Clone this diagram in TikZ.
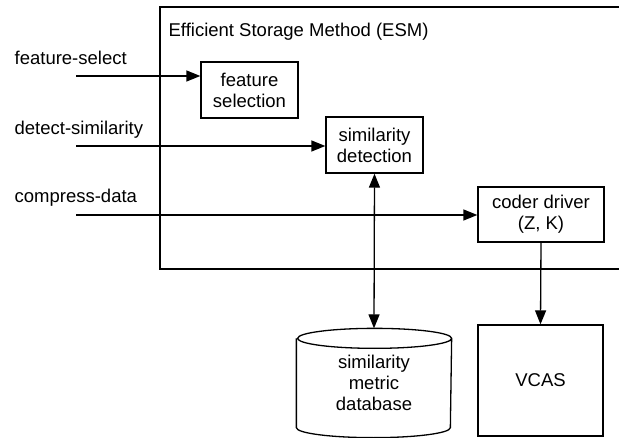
\documentclass[tikz,border=0pt]{standalone}
\usepackage{fontspec}
\setmainfont{Liberation Sans}
\usetikzlibrary{arrows.meta}
\begin{document}
\begin{tikzpicture}[x=1pt,y=1pt,line width=1.3pt,
  font=\fontsize{18.5}{21}\selectfont,
  blk/.style={draw,align=center,inner sep=0pt},
  lbl/.style={anchor=base west,inner sep=0pt},
  arr/.style={-{Triangle[length=14pt,width=11pt]}},
  arrboth/.style={{Triangle[length=14pt,width=11pt]}-{Triangle[length=14pt,width=11pt]}}]
\useasboundingbox (0,0) rectangle (619,437);

% ESM frame, open on the right
\draw (619,430) -- (160,430) -- (160,168) -- (619,168);
\node[lbl] (esm) at (168,400) {Efficient Storage Method (ESM)};

\node[blk,minimum width=97pt,minimum height=56pt] (feat) at (249.5,347) {feature\\selection};
\node[blk,minimum width=97pt,minimum height=56pt] (sim) at (374.5,292) {similarity\\detection};
\node[blk,minimum width=126pt,minimum height=55pt] (coder) at (541,222.5) {coder driver\\(Z, K)};

% inputs
\coordinate (fs) at (76,361);
\coordinate (ds) at (76,291);
\coordinate (cd) at (76,222);
\node[lbl] (fslbl) at (14,372) {feature-select};
\node[lbl] (dslbl) at (14,302) {detect-similarity};
\node[lbl] (cdlbl) at (14,234) {compress-data};
\draw[arr] (fs) -- (fs -| feat.west);
\draw[arr] (ds) -- (ds -| sim.west);
\draw[arr] (cd) -- (cd -| coder.west);

% database
\node[align=center,inner sep=0pt,minimum width=154pt,minimum height=108pt] (db) at (374,54) {similarity\\metric\\database};
\draw ([yshift=-10pt]db.north west) -- ([yshift=10pt]db.south west)
  arc[start angle=180,end angle=360,x radius=77pt,y radius=10pt]
  -- ([yshift=-10pt]db.north east)
  arc[start angle=0,end angle=360,x radius=77pt,y radius=10pt];

\node[blk,minimum width=125pt,minimum height=111pt] (vcas) at (540.5,56.5) {VCAS};

\draw[arrboth] (db.north) -- (sim.south);
\draw[arr] (coder.south) -- (vcas.north);

\end{tikzpicture}
\end{document}
